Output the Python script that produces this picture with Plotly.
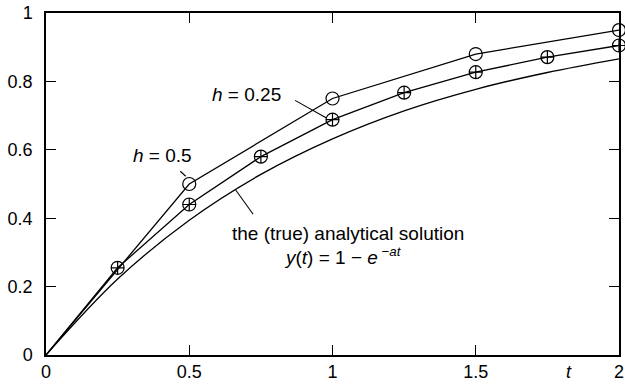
import plotly.graph_objects as go

t_h05 = [0, 0.5, 1.0, 1.5, 2.0]
y_h05 = [0, 0.50, 0.75, 0.88, 0.95]

t_h025 = [0, 0.25, 0.5, 0.75, 1.0, 1.25, 1.5, 1.75, 2.0]
y_h025 = [0, 0.255, 0.44, 0.58, 0.688, 0.767, 0.827, 0.871, 0.905]

t_true = [0, 0.25, 0.5, 0.75, 1.0, 1.25, 1.5, 1.75, 2.0]
y_true = [0, 0.222, 0.394, 0.528, 0.632, 0.714, 0.777, 0.826, 0.866]

x_ticks = [0, 0.5, 1, 1.5, 2]
x_tick_labels = ["0", "0.5", "1", "1.5", "2"]
y_ticks = [0, 0.2, 0.4, 0.6, 0.8, 1]
y_tick_labels = ["0", "0.2", "0.4", "0.6", "0.8", "1"]

FONT = "Liberation Sans, Arial, Helvetica, sans-serif"
W, H = 625, 384
L, R, T, B = 45.5, 5.5, 12.5, 29

def px2data(px, py):
    pw = W - L - R
    ph = H - T - B
    return (px - L) / pw * 2.0, (H - B - py) / ph * 1.0

def px2paper(px, py):
    pw = W - L - R
    ph = H - T - B
    return (px - L) / pw, (H - B - py) / ph

fig = go.Figure()
LW = 1.3
fig.add_trace(go.Scatter(x=t_true, y=y_true, mode="lines",
                         line=dict(color="black", width=LW, shape="spline", smoothing=1.0),
                         showlegend=False, cliponaxis=False))
fig.add_trace(go.Scatter(x=t_h025, y=y_h025, mode="lines", line=dict(color="black", width=LW),
                         showlegend=False, cliponaxis=False))
fig.add_trace(go.Scatter(x=t_h05, y=y_h05, mode="lines", line=dict(color="black", width=LW),
                         showlegend=False, cliponaxis=False))
# markers (no marker at the origin)
fig.add_trace(go.Scatter(x=t_h025[1:], y=y_h025[1:], mode="markers",
                         marker=dict(symbol="circle-cross-open", size=13, color="black", line=dict(width=1.2)),
                         showlegend=False, cliponaxis=False))
fig.add_trace(go.Scatter(x=t_h05[1:], y=y_h05[1:], mode="markers",
                         marker=dict(symbol="circle-open", size=13, color="black", line=dict(width=1.2)),
                         showlegend=False, cliponaxis=False))

# leader lines (pixel estimates converted to data coords)
leaders = [((180, 171), (185.5, 176)), ((295, 100), (326, 117.5)), ((235, 189), (253, 214))]
for (p0, p1) in leaders:
    x0, y0 = px2data(*p0)
    x1, y1 = px2data(*p1)
    fig.add_shape(type="line", x0=x0, y0=y0, x1=x1, y1=y1, line=dict(color="black", width=1.1))

def ann(px, py, text, size=19, xanchor="center"):
    x, y = px2paper(px, py)
    fig.add_annotation(x=x, y=y, xref="paper", yref="paper", text=text, showarrow=False,
                       xanchor=xanchor, yanchor="middle",
                       font=dict(family=FONT, size=size, color="black"))

ann(162, 155, "<i>h</i> = 0.5")
ann(246, 94, "<i>h</i> = 0.25")
ann(348, 233, "the (true) analytical solution")
ann(282, 256, "<i>y</i>(<i>t</i>) = 1 − <i>e</i><sup> −<i>at</i></sup>", xanchor="left")
ann(569, 372, "<i>t</i>", size=18)

axis_common = dict(showgrid=False, zeroline=False, showline=True, linecolor="black", linewidth=1.5,
                   mirror="ticks", ticks="inside", ticklen=10, tickwidth=1.2, tickcolor="black",
                   automargin=False, tickfont=dict(family=FONT, size=18, color="black"))
fig.update_xaxes(range=[0, 2], tickvals=x_ticks, ticktext=x_tick_labels, ticklabelstandoff=0, **axis_common)
fig.update_yaxes(range=[0, 1], tickvals=y_ticks, ticktext=y_tick_labels, ticklabelstandoff=8, **axis_common)

fig.update_layout(width=W, height=H, margin=dict(l=L, r=R, t=T, b=B, autoexpand=False), plot_bgcolor="white",
                  paper_bgcolor="white", font=dict(family=FONT, size=18, color="black"))
fig.write_html("out.html")
